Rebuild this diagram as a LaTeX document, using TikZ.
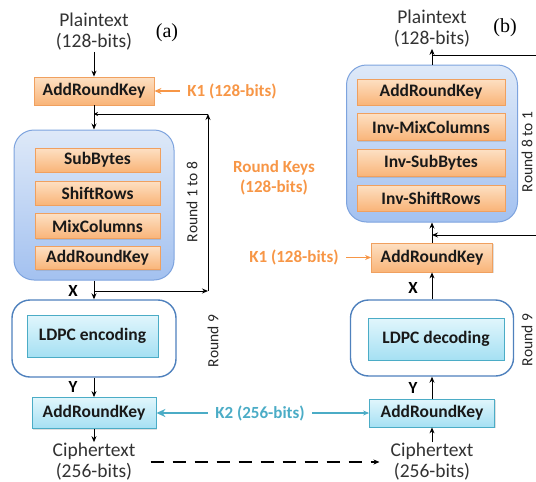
\documentclass[tikz,border=0pt]{standalone}
\usepackage{fontspec}
\setmainfont{Carlito}
\newfontfamily\serifA{Liberation Serif}
\usetikzlibrary{arrows.meta,positioning,shadows}
\definecolor{orBd}{RGB}{240,160,95}
\definecolor{orTop}{RGB}{253,224,195}
\definecolor{orBot}{RGB}{249,180,120}
\definecolor{orTxt}{RGB}{247,150,70}
\definecolor{cyBd}{RGB}{75,172,198}
\definecolor{cyTop}{RGB}{225,246,252}
\definecolor{cyBot}{RGB}{165,224,243}
\definecolor{cyTxt}{RGB}{75,172,198}
\definecolor{blBd}{RGB}{125,163,222}
\definecolor{blTop}{RGB}{222,233,248}
\definecolor{blBot}{RGB}{163,193,240}
\definecolor{ldBd}{RGB}{79,129,189}
\tikzset{
  orb/.style={draw=orBd,line width=.8pt,top color=orTop,bottom color=orBot,
              font=\fontsize{17.5}{19}\selectfont\bfseries,text=black!90,inner sep=0pt,
              drop shadow={shadow xshift=1.2pt,shadow yshift=-1.2pt,opacity=.25}},
  cyb/.style={draw=cyBd,line width=.8pt,top color=cyTop,bottom color=cyBot,
              font=\fontsize{17.5}{19}\selectfont\bfseries,text=black!90,inner sep=0pt,
              drop shadow={shadow xshift=1.2pt,shadow yshift=-1.2pt,opacity=.25}},
  rnd/.style={draw=blBd,line width=1pt,top color=blTop,bottom color=blBot,
              rounded corners=20pt,inner sep=0pt},
  ldb/.style={draw=ldBd,line width=1.4pt,fill=white,rounded corners=18pt,inner sep=0pt},
  ar/.style ={-{Stealth[length=6pt,width=5pt]},line width=.9pt},
  txt/.style={font=\fontsize{19.5}{21}\selectfont,align=center,text=black!80,inner sep=1pt},
  okey/.style={font=\fontsize{17}{20}\selectfont\bfseries,text=orTxt,align=center},
  ckey/.style={font=\fontsize{17}{20}\selectfont\bfseries,text=cyTxt},
  rlbl/.style={font=\fontsize{15.5}{17}\selectfont,rotate=90,text=black!85},
  xy/.style ={font=\fontsize{17}{18}\selectfont\bfseries},
  tag/.style={font=\fontsize{20}{22}\selectfont\serifA},
}
\begin{document}
\begin{tikzpicture}[x=1pt,y=-1pt]
  \useasboundingbox (0,0) rectangle (536,482);
  % (a) encryption
  \node[txt] (ptA) at (94,32) {Plaintext\\(128-bits)};
  \node[tag] (labA) at (167,33) {(a)};
  \node[orb,minimum width=120pt,minimum height=28pt] (arkA) at (94,91) {AddRoundKey};
  \node[okey] (k1A) at (232,91) {K1 (128-bits)};
  \coordinate (jA) at (94,114);
  \node[rnd,minimum width=160pt,minimum height=150pt] (rndA) at (94,205) {};
  \node[orb,minimum width=125pt,minimum height=24pt] (sb) at (97.5,160) {SubBytes};
  \node[orb,minimum width=125pt,minimum height=24pt] (sr) at (97.5,193) {ShiftRows};
  \node[orb,minimum width=125pt,minimum height=25pt] (mc) at (97.5,226) {MixColumns};
  \node[orb,minimum width=125pt,minimum height=23pt] (arkiA) at (97.5,258) {AddRoundKey};
  \node[rlbl] (r18) at (192,202) {Round 1 to 8};
  \coordinate (xA) at (94,291);
  \coordinate (cA1) at (208,291);
  \coordinate (cA2) at (208,114);
  \node[xy] (xlA) at (73,291) {X};
  \node[ldb,minimum width=164pt,minimum height=77pt] (ldpcA) at (94,338.5) {};
  \node[cyb,minimum width=131pt,minimum height=42pt] (enc) at (92.5,336) {LDPC encoding};
  \node[rlbl] (r9A) at (213,341) {Round 9};
  \node[xy] (ylA) at (73,387) {Y};
  \node[cyb,minimum width=124pt,minimum height=31pt] (ark2A) at (94,413) {AddRoundKey};
  \node[txt] (ctA) at (94,462) {Ciphertext\\(256-bits)};
  % keys in the middle
  \node[okey] (rk) at (274,178) {Round Keys\\(128-bits)};
  \node[ckey] (k2) at (260,413) {K2 (256-bits)};
  % (b) decryption
  \node[txt] (ptB) at (432,29) {Plaintext\\(128-bits)};
  \node[tag] (labB) at (505,28) {(b)};
  \coordinate (jB1) at (432,55);
  \coordinate (eB1) at (536,55);
  \node[rnd,minimum width=171pt,minimum height=157pt] (rndB) at (432,143.5) {};
  \node[orb,minimum width=148pt,minimum height=26pt] (arkiB) at (431,92) {AddRoundKey};
  \node[orb,minimum width=148pt,minimum height=27pt] (imc) at (431,127) {Inv-MixColumns};
  \node[orb,minimum width=148pt,minimum height=27pt] (isb) at (431,163) {Inv-SubBytes};
  \node[orb,minimum width=148pt,minimum height=26pt] (isr) at (431,198) {Inv-ShiftRows};
  \node[rlbl] (r81) at (527,152) {Round 8 to 1};
  \coordinate (jB2) at (432,235);
  \coordinate (eB2) at (536,235);
  \node[orb,minimum width=121pt,minimum height=29pt] (arkB) at (432,257.5) {AddRoundKey};
  \node[okey] (k1B) at (294,257.5) {K1 (128-bits)};
  \node[xy] (xlB) at (413,288) {X};
  \node[ldb,minimum width=163pt,minimum height=76pt] (ldpcB) at (432,338) {};
  \node[cyb,minimum width=136pt,minimum height=42pt] (dec) at (436,339) {LDPC decoding};
  \node[rlbl] (r9B) at (527,340) {Round 9};
  \node[xy] (ylB) at (413,388) {Y};
  \node[cyb,minimum width=125pt,minimum height=28pt] (ark2B) at (432,413) {AddRoundKey};
  \node[txt] (ctB) at (432,462) {Ciphertext\\(256-bits)};
  % connectors
  \foreach \a/\b in {ptA/arkA,jA/rndA,rndA/ldpcA,ldpcA/ark2A,ark2A/ctA,
                     ctB/ark2B,ark2B/ldpcB,ldpcB/arkB,arkB/rndB,rndB/ptB}
     \draw[ar] (\a)--(\b);
  \draw[line width=.9pt] (arkA)--(jA);
  \draw[ar] (xA)--(cA1);
  \draw[ar] (cA1)--(cA2);
  \draw[-{Stealth[length=4pt,width=4pt]},line width=.9pt] (cA2)--(jA);
  \draw[line width=.9pt] (jB1)--(eB1);
  \draw[ar] (eB2)--(jB2);
  \draw[-{Stealth[length=7pt,width=6pt]},orTxt,line width=2pt] ([xshift=-4pt]k1A.west)--(arkA);
  \draw[ar,orTxt,line width=1.3pt] ([xshift=4pt]k1B.east)--(arkB);
  \draw[-{Stealth[length=9pt,width=8pt]},cyTxt,line width=2.6pt] ([xshift=-4pt]k2.west)--(ark2A);
  \draw[ar,cyTxt,line width=1.3pt] ([xshift=4pt]k2.east)--(ark2B);
  \draw[ar,dashed,dash pattern=on 13pt off 9pt,line width=1.3pt]
       ([xshift=14pt]ctA.east)--([xshift=-10pt]ctB.west);
\end{tikzpicture}
\end{document}
